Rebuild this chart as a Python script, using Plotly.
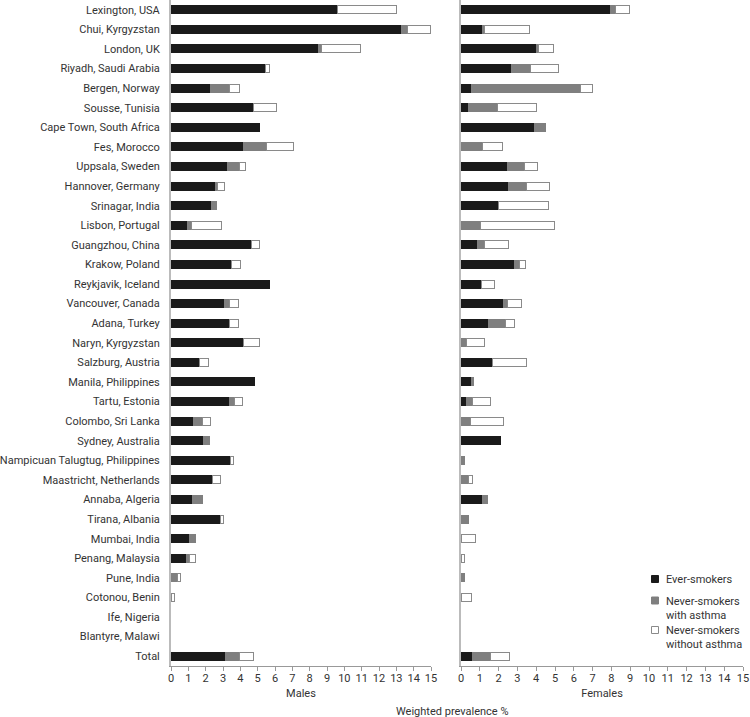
import plotly.graph_objects as go

sites = ['Lexington, USA', 'Chui, Kyrgyzstan', 'London, UK', 'Riyadh, Saudi Arabia', 'Bergen, Norway',
         'Sousse, Tunisia', 'Cape Town, South Africa', 'Fes, Morocco', 'Uppsala, Sweden', 'Hannover, Germany',
         'Srinagar, India', 'Lisbon, Portugal', 'Guangzhou, China', 'Krakow, Poland', 'Reykjavik, Iceland',
         'Vancouver, Canada', 'Adana, Turkey', 'Naryn, Kyrgyzstan', 'Salzburg, Austria', 'Manila, Philippines',
         'Tartu, Estonia', 'Colombo, Sri Lanka', 'Sydney, Australia', 'Nampicuan Talugtug, Philippines',
         'Maastricht, Netherlands', 'Annaba, Algeria', 'Tirana, Albania', 'Mumbai, India', 'Penang, Malaysia',
         'Pune, India', 'Cotonou, Benin', 'Ife, Nigeria', 'Blantyre, Malawi', 'Total']

# males
m_smokers = [9.6, 13.3, 8.5, 5.43, 2.28, 4.78, 5.09, 4.16, 3.28, 2.55, 2.34, 0.98, 4.66, 3.51, 5.68, 3.11, 3.4,
             4.18, 1.67, 4.8, 3.4, 1.27, 1.88, 3.46, 2.4, 1.23, 2.88, 1.07, 0.88, 0, 0, 0, 0, 3.17]
m_asthma = [0, 0.35, 0.2, 0, 1.12, 0, 0, 1.35, 0.69, 0.16, 0.31, 0.23, 0, 0, 0, 0.25, 0,
            0, 0, 0, 0.29, 0.52, 0.33, 0, 0, 0.57, 0, 0.35, 0.21, 0.38, 0, 0, 0, 0.8]
m_noasthma = [3.4, 1.3, 2.26, 0.25, 0.55, 1.3, 0, 1.55, 0.33, 0.38, 0, 1.71, 0.44, 0.5, 0, 0.56, 0.52,
              0.92, 0.52, 0, 0.46, 0.46, 0, 0.15, 0.46, 0, 0.17, 0, 0.35, 0.17, 0.21, 0, 0, 0.81]

# females
f_smokers = [7.97, 1.15, 4.0, 2.71, 0.55, 0.41, 3.91, 0, 2.48, 2.55, 1.97, 0, 0.87, 2.82, 1.08, 2.28, 1.45,
             0, 1.68, 0.58, 0.28, 0, 2.11, 0, 0, 1.13, 0, 0, 0, 0, 0, 0, 0, 0.62]
f_asthma = [0.23, 0.11, 0.13, 1.01, 5.82, 1.52, 0.59, 1.15, 0.92, 0.94, 0.05, 1.04, 0.39, 0.28, 0, 0.2, 0.92,
            0.3, 0, 0.06, 0.34, 0.5, 0, 0.19, 0.41, 0.27, 0.41, 0, 0, 0.19, 0, 0, 0, 0.96]
f_noasthma = [0.74, 2.37, 0.79, 1.45, 0.61, 2.07, 0, 1.06, 0.66, 1.2, 2.62, 3.94, 1.24, 0.35, 0.71, 0.73, 0.48,
              0.94, 1.79, 0, 0.94, 1.75, 0, 0, 0.19, 0, 0, 0.76, 0.19, 0, 0.55, 0, 0, 0.99]

groups = ['Ever-smokers', 'Never-smokers<br>with asthma', 'Never-smokers<br>without asthma']
fills = ['#1a1a1a', '#7f7f7f', '#ffffff']
edges = ['#1a1a1a', '#7f7f7f', '#8a8a8a']

W, H = 750, 717
PH = 666  # plot area height (bottom margin 51)

def nz(vals):
    # zero segments would still draw an outline, so leave them empty
    return [v if v > 0 else None for v in vals]

fig = go.Figure()
for i, (mv, fv) in enumerate(zip([m_smokers, m_asthma, m_noasthma], [f_smokers, f_asthma, f_noasthma])):
    fig.add_trace(go.Bar(y=sites, x=nz(mv), orientation='h', name=groups[i], showlegend=False,
                         marker=dict(color=fills[i], line=dict(color=edges[i], width=1)),
                         xaxis='x', yaxis='y', width=0.41))
    fig.add_trace(go.Bar(y=sites, x=nz(fv), orientation='h', name=groups[i], showlegend=False,
                         marker=dict(color=fills[i], line=dict(color=edges[i], width=1)),
                         xaxis='x2', yaxis='y2', width=0.41))

axfont = dict(family='Roboto', size=11, color='#333333')
xcommon = dict(range=[0, 15], tick0=0, dtick=1, showline=True, linecolor='#999999', linewidth=1,
               ticks='outside', ticklen=4, tickcolor='#999999', showgrid=False, zeroline=False,
               tickfont=axfont, fixedrange=True, automargin=False, ticklabelstandoff=-2)
fig.update_layout(
    barmode='stack',
    width=W, height=H,
    margin=dict(l=0, r=0, t=0, b=H - PH),
    plot_bgcolor='white', paper_bgcolor='white',
    font=axfont,
    showlegend=False,
    xaxis=dict(domain=[171/W, 431/W], title=dict(text='Males', font=axfont, standoff=5), **xcommon),
    xaxis2=dict(domain=[461/W, 743/W], anchor='y2', title=dict(text='Females', font=axfont, standoff=5), **xcommon),
    yaxis=dict(categoryorder='array', categoryarray=sites, range=[33.5, -0.5], showline=True, automargin=False,
               linecolor='#bbbbbb', linewidth=2, showgrid=False, ticks='', tickfont=axfont, ticklabelstandoff=7),
    yaxis2=dict(anchor='x2', matches='y', showticklabels=False, showline=True, linecolor='#bbbbbb',
                linewidth=2, showgrid=False, ticks='', automargin=False),
)

# legend drawn by hand so the swatches sit close to the text
leg_y = [579, 600.5, 630]
leg_text = ['Ever-smokers', 'Never-smokers<br>with asthma', 'Never-smokers<br>without asthma']
for i in range(3):
    yc = 1 - leg_y[i] / PH
    fig.add_shape(type='rect', xref='paper', yref='paper',
                  x0=651.5/W, x1=658.5/W, y0=yc - 3.5/PH, y1=yc + 3.5/PH,
                  fillcolor=fills[i], line=dict(color=edges[i], width=1))
    fig.add_annotation(text=leg_text[i], x=664/W, y=yc, xref='paper', yref='paper',
                       xanchor='left', yanchor='top', yshift=8, showarrow=False, align='left',
                       font=axfont)

fig.add_annotation(text='Weighted prevalence %', x=452/W, y=1 - 711/PH, xref='paper', yref='paper',
                   xanchor='center', yanchor='middle', showarrow=False, font=axfont)

# drop the browser's default 8px body margin so the figure fills the window
fig.write_html('out.html', config={'displayModeBar': False},
               post_script="document.body.style.margin='0';")
